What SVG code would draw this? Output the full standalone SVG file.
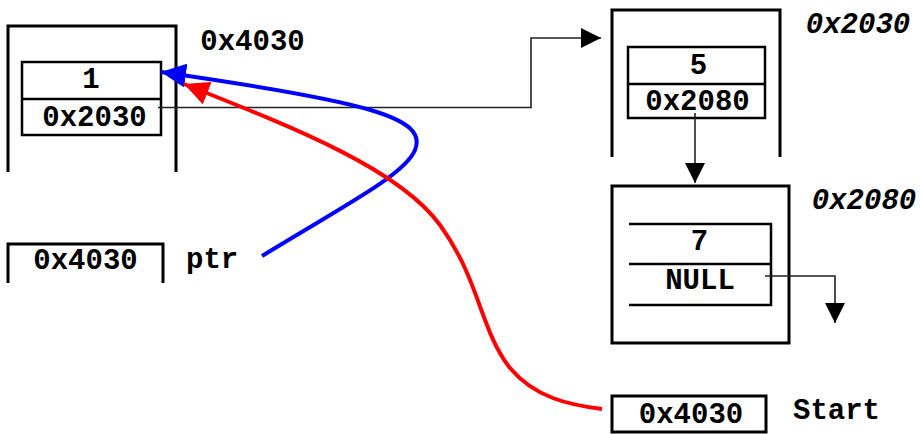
<svg xmlns="http://www.w3.org/2000/svg" width="921" height="434" viewBox="0 0 921 434">
<style>
.box{fill:none;stroke:#000;stroke-width:3}
.rec{fill:none;stroke:#000;stroke-width:2.5}
.t{font-family:"Liberation Mono",monospace;font-weight:bold;font-size:29px;fill:#000;text-anchor:middle}
.ti{font-family:"Liberation Mono",monospace;font-weight:bold;font-style:italic;font-size:29px;fill:#000;text-anchor:middle}
.ts{font-family:"Liberation Mono",monospace;font-weight:bold;font-size:29px;fill:#000}
.thin{fill:none;stroke:#222;stroke-width:1.6}
</style>
<defs>
<marker id="ab" viewBox="0 0 20 20" refX="20" refY="10" markerWidth="20" markerHeight="20" markerUnits="userSpaceOnUse" orient="auto"><path d="M0,0 L20,10 L0,20 Z" fill="#000"/></marker>
<marker id="abl" viewBox="0 0 25 24" refX="25" refY="12" markerWidth="25" markerHeight="24" markerUnits="userSpaceOnUse" orient="auto"><path d="M0,0 L25,12 L0,24 Z" fill="#0000ff"/></marker>
<marker id="ard" viewBox="0 0 25 24" refX="25" refY="12" markerWidth="25" markerHeight="24" markerUnits="userSpaceOnUse" orient="auto"><path d="M0,0 L25,12 L0,24 Z" fill="#ff0000"/></marker>
</defs>
<g id="node-4030">
<path class="box" d="M8,172 V26 H176 V172"/>
<rect class="rec" x="22" y="62" width="139" height="73"/>
<line class="rec" x1="22" y1="99" x2="161" y2="99"/>
<text class="t" x="91" y="88">1</text>
<text class="t" x="94.5" y="126">0x2030</text>
<text class="t" x="252.5" y="50">0x4030</text>
</g>
<g id="node-2030">
<path class="box" d="M612,157 V10 H780 V157"/>
<rect class="rec" x="628" y="47" width="137" height="71"/>
<line class="rec" x1="628" y1="84" x2="765" y2="84"/>
<text class="t" x="698.5" y="74">5</text>
<text class="t" x="697.5" y="110">0x2080</text>
<text class="ti" x="858" y="33">0x2030</text>
</g>
<g id="node-2080">
<rect class="box" x="612" y="186" width="177" height="157"/>
<path class="rec" d="M629,224 H771 V305 H629 M629,264 H771"/>
<text class="t" x="699.5" y="250">7</text>
<text class="t" x="700" y="289">NULL</text>
<text class="ti" x="864" y="209">0x2080</text>
</g>
<g id="node-ptr">
<path class="box" d="M8,283 V244 H163 V283"/>
<text class="t" x="85.5" y="269">0x4030</text>
<text class="ts" x="186" y="268">ptr</text>
</g>
<g id="node-start">
<rect class="box" x="612" y="396" width="154" height="36"/>
<text class="t" x="691" y="423">0x4030</text>
<text class="ts" x="793" y="419">Start</text>
</g>
<g id="connectors">
<path class="thin" d="M158,107.5 H531 V38 H601" marker-end="url(#ab)"/>
<path class="thin" d="M695,113 V183" marker-end="url(#ab)"/>
<path class="thin" d="M765,276 H835 V323" marker-end="url(#ab)"/>
<path d="M262,256 C340,208 405,175 415,150 C428,118 370,102 161,72" fill="none" stroke="#0000ff" stroke-width="4" marker-end="url(#abl)"/>
<path d="M602,409 C570,405 535,398 510,368 C480,330 480,280 440,225 C400,170 300,130 184,84" fill="none" stroke="#ff0000" stroke-width="4" marker-end="url(#ard)"/>
</g>
</svg>
